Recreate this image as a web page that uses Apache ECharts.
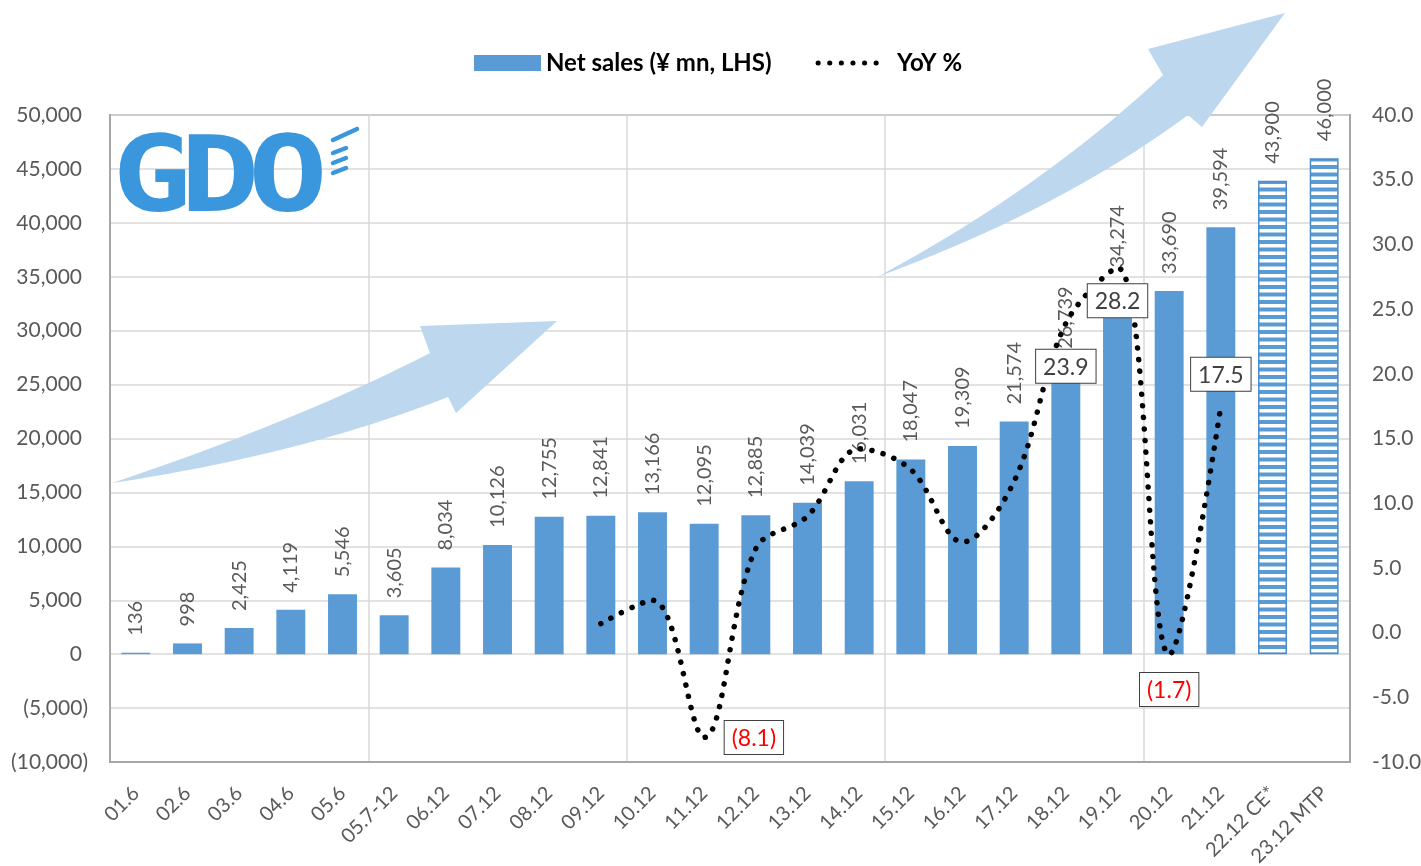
<!DOCTYPE html>
<html>
<head>
<meta charset="utf-8">
<script src="https://cdn.jsdelivr.net/npm/echarts@6/dist/echarts.min.js"></script>
<style>
  html, body { margin: 0; padding: 0; background: #fff; }
  #main { width: 1421px; height: 866px; }
</style>
</head>
<body>
<div id="main"></div>
<script>
// categories (fiscal periods)
var categories = ['01.6', '02.6', '03.6', '04.6', '05.6', '05.7-12', '06.12', '07.12', '08.12', '09.12',
  '10.12', '11.12', '12.12', '13.12', '14.12', '15.12', '16.12', '17.12', '18.12', '19.12',
  '20.12', '21.12', '22.12 CE*', '23.12 MTP']
// net sales, ¥ mn
var netSales = [136, 998, 2425, 4119, 5546, 3605, 8034, 10126, 12755, 12841,
  13166, 12095, 12885, 14039, 16031, 18047, 19309, 21574, 26739, 34274,
  33690, 39594, 43900, 46000]
// forecast / plan bars (drawn hatched)
var isPlan = [false, false, false, false, false, false, false, false, false, false,
  false, false, false, false, false, false, false, false, false, false,
  false, false, true, true]
// YoY %
var yoy = [null, null, null, null, null, null, null, null, null, 0.7,
  2.5, -8.1, 6.5, 9.0, 14.2, 12.6, 7.0, 11.7, 23.9, 28.2,
  -1.7, 17.5, null, null]
// which YoY points get a boxed label: index -> [position, distance]
var yoyLabelPos = { 11: ['right', 20], 18: ['bottom', 26], 19: ['bottom', 16], 20: ['bottom', 18], 21: ['top', 15] }

var FONT = 'Lato'
var GRAY = '#595959'
var BLUE = '#5b9bd5'

// hatched pattern for plan bars
var pat = document.createElement('canvas')
pat.width = 8
pat.height = 15
var ctx = pat.getContext('2d')
ctx.fillStyle = '#fff'
ctx.fillRect(0, 0, 8, 15)
ctx.fillStyle = BLUE
ctx.fillRect(0, 0, 8, 4)
ctx.fillRect(0, 7.5, 8, 4)

function fmtNum (v) {
  return Math.abs(v).toString().replace(/\B(?=(\d{3})+(?!\d))/g, ',')
}

// points along a quadratic curve (for the decorative arrows)
function quad (p0, c, p1) {
  var pts = []
  for (var i = 0; i <= 20; i++) {
    var t = i / 20
    var a = (1 - t) * (1 - t), b = 2 * t * (1 - t), d = t * t
    pts.push([a * p0[0] + b * c[0] + d * p1[0], a * p0[1] + b * c[1] + d * p1[1]])
  }
  return pts
}
var arrow1 = quad([112, 483], [300, 420], [430, 353])
  .concat([[420, 326], [557, 321], [456, 413]])
  .concat(quad([448, 397], [300, 455], [112, 483]))
var arrow2 = quad([877, 277], [1040, 190], [1163, 75])
  .concat([[1148, 49], [1285, 13], [1202, 127]])
  .concat(quad([1188, 115], [1060, 210], [877, 277]))

var barData = netSales.map(function (v, i) {
  if (isPlan[i]) {
    return {
      value: v,
      itemStyle: { color: { image: pat, repeat: 'repeat' }, borderColor: '#4a8ccb', borderWidth: 1.5 }
    }
  }
  return v
})

var lineData = yoy.map(function (v, i) {
  var p = yoyLabelPos[i]
  if (!p) return v
  return {
    value: v,
    label: {
      show: true,
      position: p[0],
      distance: p[1],
      formatter: function (d) {
        return d.value < 0 ? '{neg|(' + Math.abs(d.value).toFixed(1) + ')}' : '{pos|' + d.value.toFixed(1) + '}'
      },
      backgroundColor: '#fff',
      borderColor: '#404040',
      borderWidth: 1,
      padding: [6, 7, 4, 7],
      rich: {
        neg: { color: '#ff0000', fontSize: 23, fontFamily: FONT },
        pos: { color: '#404040', fontSize: 23, fontFamily: FONT }
      }
    }
  }
})

var logoLine = { stroke: '#3a97dd', lineWidth: 4.5, lineCap: 'round' }
var logoText = { fontSize: 106, fontWeight: 'bold', fontFamily: 'DejaVu Sans Mono', fill: '#3a97dd' }
var dotStyle = { color: '#000', width: 5.5, type: [0.1, 11.5], cap: 'round' }

var myChart = echarts.init(document.getElementById('main'))
myChart.setOption({
  animation: false,
  textStyle: { fontFamily: FONT },
  legend: {
    left: 469,
    top: 46,
    itemWidth: 67,
    itemHeight: 16,
    itemGap: 44,
    textStyle: {
      fontSize: 24,
      fontWeight: 'bold',
      color: '#000',
      fontFamily: FONT,
      rich: { y: { fontSize: 24, fontWeight: 'bold', color: '#000', fontFamily: FONT, padding: [0, 0, 0, 7] } }
    },
    formatter: function (name) { return name === 'YoY %' ? '{y|' + name + '}' : name },
    data: [
      { name: 'Net sales (¥ mn, LHS)', icon: 'rect' },
      { name: 'YoY %', lineStyle: { width: 5, type: [0.1, 11.5], cap: 'round', color: '#000' } }
    ]
  },
  grid: {
    left: 110,
    right: 71,
    top: 115,
    bottom: 104,
    outerBoundsMode: 'none',
    show: true,
    borderColor: '#a6a6a6',
    borderWidth: 2
  },
  graphic: [
    // background arrows
    { type: 'polygon', z: 1, shape: { points: arrow1 }, style: { fill: '#bdd7ee' } },
    { type: 'polygon', z: 1, shape: { points: arrow2 }, style: { fill: '#bdd7ee' } },
    // GDO logo
    { type: 'text', z: 1, x: 112, y: 130, scaleX: 1.25, style: Object.assign({ text: 'G' }, logoText) },
    { type: 'text', z: 1, x: 180, y: 130, scaleX: 1.25, style: Object.assign({ text: 'D' }, logoText) },
    { type: 'text', z: 1, x: 248, y: 130, scaleX: 1.25, style: Object.assign({ text: 'O' }, logoText) },
    { type: 'line', z: 1, shape: { x1: 333, y1: 140, x2: 357, y2: 129 }, style: logoLine },
    { type: 'line', z: 1, shape: { x1: 333, y1: 153, x2: 346, y2: 148 }, style: logoLine },
    { type: 'line', z: 1, shape: { x1: 333, y1: 163, x2: 346, y2: 158 }, style: logoLine },
    { type: 'line', z: 1, shape: { x1: 333, y1: 173, x2: 346, y2: 168 }, style: logoLine }
  ],
  xAxis: {
    type: 'category',
    data: categories,
    axisLine: { onZero: false, lineStyle: { color: '#a6a6a6', width: 2 } },
    axisTick: { show: false },
    axisLabel: { interval: 0, rotate: 45, margin: 28, fontSize: 20, color: GRAY, fontFamily: FONT },
    splitLine: {
      show: true,
      interval: function (i) { return i % 5 === 0 },
      lineStyle: { color: '#d9d9d9', width: 1.5 }
    }
  },
  yAxis: [
    {
      type: 'value',
      min: -10000,
      max: 50000,
      interval: 5000,
      axisLine: { show: true, lineStyle: { color: '#a6a6a6', width: 2 } },
      axisLabel: {
        margin: 22,
        fontSize: 21,
        color: GRAY,
        fontFamily: FONT,
        formatter: function (v) {
          if (v < 0) return '(' + fmtNum(v) + ')'
          return '{p|' + fmtNum(v) + '}'
        },
        rich: { p: { fontSize: 21, color: GRAY, fontFamily: FONT, padding: [0, 6, 0, 0] } }
      },
      splitLine: { show: true, lineStyle: { color: '#d9d9d9', width: 1.5 } }
    },
    {
      type: 'value',
      min: -10,
      max: 40,
      interval: 5,
      axisLine: { show: true, lineStyle: { color: '#a6a6a6', width: 2 } },
      axisLabel: {
        margin: 22,
        fontSize: 21,
        color: GRAY,
        fontFamily: FONT,
        formatter: function (v) { return v.toFixed(1) }
      },
      splitLine: { show: false }
    }
  ],
  series: [
    {
      name: 'Net sales (¥ mn, LHS)',
      type: 'bar',
      data: barData,
      barCategoryGap: '44%',
      itemStyle: { color: BLUE },
      label: {
        show: true,
        position: 'top',
        rotate: 90,
        align: 'left',
        verticalAlign: 'middle',
        distance: 17,
        fontSize: 20,
        color: GRAY,
        fontFamily: FONT,
        formatter: function (d) { return fmtNum(d.value) }
      }
    },
    {
      name: 'YoY %',
      type: 'line',
      yAxisIndex: 1,
      z: 3,
      data: lineData,
      smooth: 0.35,
      symbol: 'circle',
      symbolSize: 1,
      showAllSymbol: true,
      itemStyle: { color: 'rgba(0,0,0,0)' },
      lineStyle: dotStyle
    }
  ]
})
</script>
</body>
</html>
